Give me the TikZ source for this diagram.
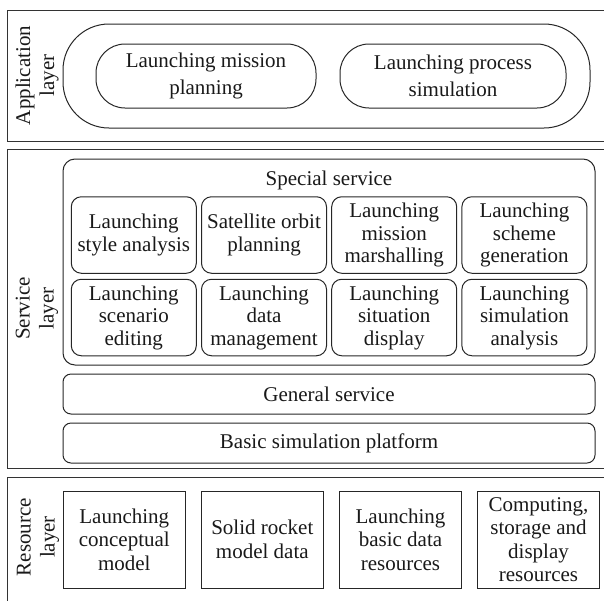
\documentclass[tikz,border=0pt]{standalone}
\usepackage{fontspec}
\setmainfont{Liberation Serif}
\begin{document}
\begin{tikzpicture}[x=1pt,y=-1pt,
  every node/.style={align=center, inner sep=0pt, text=black!90,
    font=\fontsize{21}{22.5}\selectfont},
  layerbox/.style={draw=black!80, line width=1.2pt, minimum width=603, anchor=north west},
  layerlabel/.style={rotate=90, font=\fontsize{21}{24}\selectfont},
  appouter/.style={draw=black!85, line width=1pt, rounded corners=46pt},
  apppill/.style={draw=black!85, line width=1pt, rounded corners=29pt,
    minimum height=64, font=\fontsize{21}{27}\selectfont},
  cluster/.style={draw=black!85, line width=1pt, rounded corners=12pt},
  svcbox/.style={draw=black!85, line width=1pt, rounded corners=10pt,
    minimum width=125, minimum height=76.5},
  barbox/.style={draw=black!85, line width=1pt, rounded corners=8pt,
    minimum width=532, minimum height=40},
  resbox/.style={draw=black!85, line width=1pt, minimum width=122,
    minimum height=97, font=\fontsize{21}{23.5}\selectfont}]
\useasboundingbox (0,0) rectangle (604,600);
\clip (0,0) rectangle (604,600);

% Application layer
\node[layerbox, minimum height=131] (applayer) at (7,10) {};
\node[layerlabel] (applabel) at (37,75.5) {Application\\layer};
\node[appouter, minimum width=527, minimum height=104] (appgroup) at (326.5,76) {};
\node[apppill, minimum width=220] (planning) at (206,76) {Launching mission\\planning};
\node[apppill, minimum width=226] (process) at (453,76) {Launching process\\simulation};

% Service layer
\node[layerbox, minimum height=319] (svclayer) at (7,149) {};
\node[layerlabel] (svclabel) at (37,308.5) {Service\\layer};
\node[cluster, minimum width=532, minimum height=206] (special) at (329,262) {};
\node (spectitle) at (329,180) {Special service};

\node[svcbox] (s11) at (133.8,235) {Launching\\style analysis};
\node[svcbox] (s12) at (264,235) {Satellite orbit\\planning};
\node[svcbox] (s13) at (394.2,235) {Launching\\mission\\marshalling};
\node[svcbox] (s14) at (524.4,235) {Launching\\scheme\\generation};
\node[svcbox] (s21) at (133.8,317.5) {Launching\\scenario\\editing};
\node[svcbox] (s22) at (264,317.5) {Launching\\data\\management};
\node[svcbox] (s23) at (394.2,317.5) {Launching\\situation\\display};
\node[svcbox] (s24) at (524.4,317.5) {Launching\\simulation\\analysis};

\node[barbox] (general) at (329,394) {General service};
\node[barbox] (platform) at (329,443) {Basic simulation platform};

% Resource layer
\node[layerbox, minimum height=140] (reslayer) at (7,477) {};
\node[layerlabel] (reslabel) at (38,537) {Resource\\layer};
\node[resbox] (r1) at (124.3,539.5) {Launching\\conceptual\\model};
\node[resbox] (r2) at (262.3,539.5) {Solid rocket\\model data};
\node[resbox] (r3) at (400.5,539.5) {Launching\\basic data\\resources};
\node[resbox] (r4) at (538.5,539.5) {Computing,\\storage and\\display\\resources};
\end{tikzpicture}
\end{document}
